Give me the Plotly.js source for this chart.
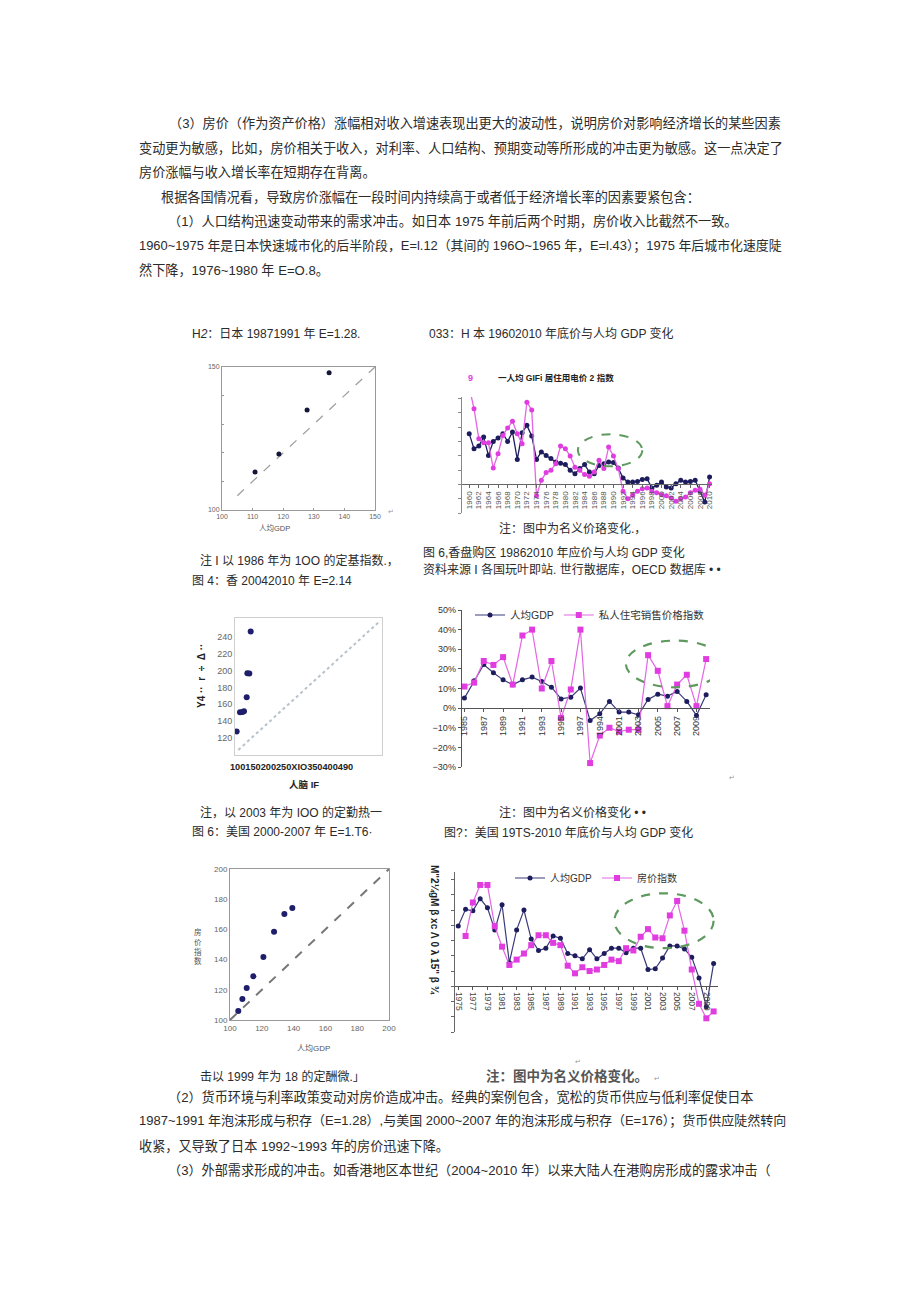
<!DOCTYPE html>
<html><head><meta charset="utf-8">
<script src="https://cdn.plot.ly/plotly-3.0.1.min.js"></script>
<style>html,body{margin:0;padding:0;background:#fff;}#page{width:920px;height:1301px;}</style>
</head><body><div id="page"></div>
<script>
// ---------- DATA ----------
// Chart 1: Japan 1987-1991 scatter (index, 1986=100)
const jpScatterGdp   = [110.8, 118.6, 127.8, 135.0];
const jpScatterPrice = [113.3, 119.6, 135.0, 148.0];
const jpDiagX = [105, 150];
const jpDiagY = [105, 150];
const jpScatterTicks = [100, 110, 120, 130, 140, 150];

// Chart 2: Japan 1960-2010 growth (%)
const jpYears = [1960,1961,1962,1963,1964,1965,1966,1967,1968,1969,1970,1971,1972,1973,1974,1975,1976,1977,1978,1979,1980,1981,1982,1983,1984,1985,1986,1987,1988,1989,1990,1991,1992,1993,1994,1995,1996,1997,1998,1999,2000,2001,2002,2003,2004,2005,2006,2007,2008,2009,2010];
const jpGdp   = [17.7,12.4,13.4,16.5,10.1,15,16.2,17.7,15,18.3, 8.7,18,20.6,16.9,8.7,11.3,10.1,9,7.8,7.4, 6.9,4.9,3.7,5.5,6.9,4.3,3.7,6.6,7.2,7.8, 7.6,5.7,2.2,0.8,0.8,1,1.7,2,-1.3,-0.3, 0.8,-0.9,-1.3,0.2,1.4,0.8,1,1.4,-2.4,-6.2,2.6];
const jpPrice = [34,26.4,15.9,14.5,14.5,5.7,10.7,17.1,19.7,22, 17.7,14.2,28.7,26,-4,1.4,4.1,4.9,7.2,13.4, 12.4,9.9,6,4.9,3.4,2.8,4.3,8.4,5.5,13, 9.9,5.5,-2.4,-5,-3.8,-2.4,-1.5,-1.3,-2.4,-2.9, -3.6,-4,-4.8,-5.9,-5,-4.4,-2.9,-2.1,-1.7,-3.8,0.2];
const jpTickYears = [1960,1962,1964,1966,1968,1970,1972,1974,1976,1978,1980,1982,1984,1986,1988,1990,1992,1994,1996,1998,2000,2002,2004,2006,2008,2010];

// Chart 3: Hong Kong scatter (2003=100)
const hkScatterGdp   = [104.5, 113.6, 120.0, 124.5, 131.8, 133.6, 139.0, 142.7];
const hkScatterPrice = [127.9, 150.5, 150.9, 151.7, 168.3, 196.8, 196.4, 245.9];
const hkDiagX = [109, 495];
const hkDiagY = [106, 258.6];
const hkScatterYTicks = [120, 140, 160, 180, 200, 220, 240];

// Chart 4: Hong Kong 1985-2010 growth (%)
const hkYears = [1985,1986,1987,1988,1989,1990,1991,1992,1993,1994,1995,1996,1997,1998,1999,2000,2001,2002,2003,2004,2005,2006,2007,2008,2009,2010];
const hkGdp   = [5.1,14,22.2,18,14.4,11.9,14.4,15.8,13.6,10.7, 4.7,5.6,10.2,-6.3,-2.9,3.4,-2,-2,-3.4,4.4, 7.1,6.1,8.5,3.4,-3.7,6.8];
const hkPrice = [11,13,24,22,26,12,37,40,10,24, -5,9.5,40,-28,-14,-10,-12,-11,-11,27, 19,1,12,17,1,25];
const hkTickYears = [1985,1987,1989,1991,1993,1995,1997,1999,2001,2003,2005,2007,2009];
const hkTickText  = ['1985','1987','1989','1991','1993','1995','1997','1994','2001','2003','2005','2007','2009'];
const hkSeriesNames = ['人均GDP', '私人住宅销售价格指数'];

// Chart 5: US 2000-2007 scatter (1999=100)
const usScatterGdp   = [105.2, 107.8, 110.5, 114.7, 121.0, 127.7, 134.2, 139.2];
const usScatterPrice = [106.0, 113.9, 121.2, 128.9, 141.7, 158.5, 170.2, 174.2];
const usDiagX = [100, 200];
const usDiagY = [100, 200];
const usScatterTicks = [100, 120, 140, 160, 180, 200];

// Chart 6: US 1975-2010 growth (%)
const usYears = [1975,1976,1977,1978,1979,1980,1981,1982,1983,1984,1985,1986,1987,1988,1989,1990,1991,1992,1993,1994,1995,1996,1997,1998,1999,2000,2001,2002,2003,2004,2005,2006,2007,2008,2009,2010];
const usGdp   = [7.9,10.1,9.9,11.5,10.3,7.4,10.7,3.1,7.4,10, 6.2,4.7,5,6.6,6.3,4.3,4,3.6,4.8,3.6, 4.3,5,5,4.4,5,5,2.2,2.3,3.7,5.3, 5.3,4.9,3.8,1.1,-2.7,3];
const usPrice = [null,6.6,11,13.3,13.3,7.9,5.2,2.8,3.5,4.3, 5.4,6.7,6.7,5.7,5.4,2.7,1.7,2.5,2,2.2, 2.8,3.5,3.3,5,4.7,6.5,7.5,6.4,6.3,9.3, 11.2,7.3,2.2,-2.3,-4.2,-3.3];
const usTickYears = [1975,1977,1979,1981,1983,1985,1987,1989,1991,1993,1995,1997,1999,2001,2003,2005,2007,2009];
const usSeriesNames = ['人均GDP', '房价指数'];

// ---------- LAYOUT HELPERS ----------
const W = 920, H = 1301;
const FONT = 'Liberation Sans, "Noto Sans CJK SC", sans-serif';
const px = x => x / W;
const py = y => 1 - y / H;
const xd = (a, b) => [px(a), px(b)];
const yd = (top, bottom) => [py(bottom), py(top)];
const NAVY = '#1d1d5e', MAG = '#e03ce0', MAGL = '#e466e4', GREEN = '#5e9a5e';

function note(text, x, y, size, o) {
  o = o || {};
  return {
    xref: 'paper', yref: 'paper', x: px(x), y: py(y),
    xanchor: o.anchor || 'left', yanchor: 'middle', showarrow: false,
    text: text, textangle: o.angle || 0,
    font: { size: size, color: o.color || '#2b2b2b', family: o.family || FONT }
  };
}

// ---------- TRACES ----------
const traces = [
  // chart 1
  { x: jpDiagX, y: jpDiagY, xaxis: 'x', yaxis: 'y', mode: 'lines', line: { color: '#a0a0a0', width: 1.3, dash: 'dash' }, showlegend: false, hoverinfo: 'skip' },
  { x: jpScatterGdp, y: jpScatterPrice, xaxis: 'x', yaxis: 'y', mode: 'markers', marker: { color: '#15153a', size: 5 }, showlegend: false },
  // chart 2
  { x: jpYears, y: jpGdp, xaxis: 'x2', yaxis: 'y2', mode: 'lines+markers', line: { color: NAVY, width: 1.3 }, marker: { color: NAVY, size: 5 }, showlegend: false },
  { x: jpYears, y: jpPrice, xaxis: 'x2', yaxis: 'y2', mode: 'lines+markers', line: { color: MAGL, width: 1.3 }, marker: { color: MAG, size: 5 }, showlegend: false },
  // chart 3
  { x: hkDiagX, y: hkDiagY, xaxis: 'x3', yaxis: 'y3', mode: 'lines', line: { color: '#b7c2cc', width: 2, dash: 'dot' }, showlegend: false, hoverinfo: 'skip' },
  { x: hkScatterGdp, y: hkScatterPrice, xaxis: 'x3', yaxis: 'y3', mode: 'markers', marker: { color: '#1e1e6a', size: 6 }, showlegend: false },
  // chart 4
  { x: hkYears, y: hkGdp, name: hkSeriesNames[0], xaxis: 'x4', yaxis: 'y4', mode: 'lines+markers', line: { color: '#3a3a7a', width: 1.2 }, marker: { color: NAVY, size: 5 }, legend: 'legend' },
  { x: hkYears, y: hkPrice, name: hkSeriesNames[1], xaxis: 'x4', yaxis: 'y4', mode: 'lines+markers', line: { color: MAGL, width: 1.2 }, marker: { color: MAG, size: 6, symbol: 'square' }, legend: 'legend' },
  // chart 5
  { x: usDiagX, y: usDiagY, xaxis: 'x5', yaxis: 'y5', mode: 'lines', line: { color: '#777', width: 2, dash: 'dash' }, showlegend: false, hoverinfo: 'skip' },
  { x: usScatterGdp, y: usScatterPrice, xaxis: 'x5', yaxis: 'y5', mode: 'markers', marker: { color: '#1e1e6a', size: 6 }, showlegend: false },
  // chart 6
  { x: usYears, y: usGdp, name: usSeriesNames[0], xaxis: 'x6', yaxis: 'y6', mode: 'lines+markers', line: { color: '#3a3a7a', width: 1.2 }, marker: { color: NAVY, size: 5 }, legend: 'legend2' },
  { x: usYears, y: usPrice, name: usSeriesNames[1], xaxis: 'x6', yaxis: 'y6', mode: 'lines+markers', connectgaps: false, line: { color: MAGL, width: 1.2 }, marker: { color: MAG, size: 6, symbol: 'square' }, legend: 'legend2' }
];

// ---------- AXES ----------
const noGrid = { showgrid: false, zeroline: false, fixedrange: true };
const layout = {
  width: W, height: H, margin: { l: 0, r: 0, t: 0, b: 0 },
  paper_bgcolor: '#fff', plot_bgcolor: '#fff',
  font: { family: FONT, color: '#333' },
  // chart 1
  xaxis: Object.assign({}, noGrid, { domain: xd(222, 375), range: [100, 150], anchor: 'y', tickvals: jpScatterTicks, tickfont: { size: 7, color: '#666' }, ticks: 'inside', ticklen: 2, tickcolor: '#999', showline: true, mirror: true, linecolor: '#999', linewidth: 1 }),
  yaxis: Object.assign({}, noGrid, { domain: yd(367, 510), range: [100, 150], anchor: 'x', tickvals: jpScatterTicks, ticktext: ['100', '', '', '', '', '150'], tickfont: { size: 7, color: '#666' }, ticks: 'inside', ticklen: 2, tickcolor: '#999', showline: true, mirror: true, linecolor: '#999', linewidth: 1 }),
  // chart 2
  xaxis2: Object.assign({}, noGrid, { domain: xd(462, 712), range: [1958.5, 2010.5], anchor: 'free', position: py(484), tickvals: jpTickYears, tickangle: -90, tickfont: { size: 8, color: '#555' }, ticks: 'outside', ticklen: 3, tickcolor: '#666', showline: true, linecolor: '#666', linewidth: 1.2 }),
  yaxis2: Object.assign({}, noGrid, { domain: yd(397, 513), range: [-10, 30.5], anchor: 'x2', dtick: 5, tick0: 0, showticklabels: false, ticks: 'outside', ticklen: 3, tickcolor: '#888', showline: true, linecolor: '#888', linewidth: 1 }),
  // chart 3
  xaxis3: Object.assign({}, noGrid, { domain: xd(235, 382), range: [100, 500], anchor: 'y3', showticklabels: false, ticks: '', showline: true, mirror: true, linecolor: '#cfcfcf', linewidth: 1 }),
  yaxis3: Object.assign({}, noGrid, { domain: yd(618, 755), range: [100, 262], anchor: 'x3', tickvals: hkScatterYTicks, tickfont: { size: 9, color: '#666' }, ticks: '', showline: true, mirror: true, linecolor: '#cfcfcf', linewidth: 1 }),
  // chart 4
  xaxis4: Object.assign({}, noGrid, { domain: xd(462, 710), range: [1984.75, 2010.4], anchor: 'free', position: py(708), tickvals: hkTickYears, ticktext: hkTickText, tickangle: -90, tickfont: { size: 9, color: '#333' }, ticks: 'outside', ticklen: 3, tickcolor: '#555', showline: true, linecolor: '#555', linewidth: 1.3 }),
  yaxis4: Object.assign({}, noGrid, { domain: yd(610, 767), range: [-30, 50], anchor: 'x4', dtick: 10, ticksuffix: '%', tickfont: { size: 9, color: '#333' }, ticks: 'outside', ticklen: 3, tickcolor: '#555', showline: true, linecolor: '#555', linewidth: 1.3 }),
  // chart 5
  xaxis5: Object.assign({}, noGrid, { domain: xd(230, 389), range: [100, 200], anchor: 'y5', tickvals: usScatterTicks, tickfont: { size: 8, color: '#666' }, ticks: '', showline: true, mirror: true, linecolor: '#999', linewidth: 1 }),
  yaxis5: Object.assign({}, noGrid, { domain: yd(869, 1020), range: [100, 200], anchor: 'x5', tickvals: usScatterTicks, tickfont: { size: 8, color: '#666' }, ticks: '', showline: true, mirror: true, linecolor: '#999', linewidth: 1 }),
  // chart 6
  xaxis6: Object.assign({}, noGrid, { domain: xd(455, 718), range: [1974.55, 2010.6], anchor: 'free', position: py(986), tickvals: usTickYears, tickangle: 90, tickfont: { size: 8.5, color: '#444' }, ticks: 'outside', ticklen: 3, tickcolor: '#555', showline: true, linecolor: '#555', linewidth: 1.2 }),
  yaxis6: Object.assign({}, noGrid, { domain: yd(872, 1032), range: [-6, 15], anchor: 'x6', dtick: 2, tick0: 0, showticklabels: false, ticks: 'outside', ticklen: 3, tickcolor: '#666', showline: true, linecolor: '#666', linewidth: 1.2 }),
  legend: { x: px(470), y: py(615), xanchor: 'left', yanchor: 'middle', orientation: 'h', bgcolor: 'rgba(0,0,0,0)', font: { size: 10.5, color: '#333' }, itemwidth: 30, tracegroupgap: 0 },
  legend2: { x: px(510), y: py(878), xanchor: 'left', yanchor: 'middle', orientation: 'h', bgcolor: 'rgba(0,0,0,0)', font: { size: 10, color: '#333' }, itemwidth: 30, tracegroupgap: 0 },
  shapes: [
    { type: 'circle', xref: 'x2', yref: 'y2', x0: 1982.6, x1: 1996.0, y0: 6.3, y1: 17.5, line: { color: GREEN, width: 2, dash: 'dash' } },
    { type: 'circle', xref: 'x4', yref: 'y4', x0: 2001.7, x1: 2011.9, y0: 10.6, y1: 34.4, line: { color: GREEN, width: 2.2, dash: 'dash' } },
    { type: 'circle', xref: 'x6', yref: 'y6', x0: 1996.4, x1: 2010.0, y0: 5.0, y1: 12.2, line: { color: GREEN, width: 2.2, dash: 'dash' } }
  ],
  annotations: []
};

// ---------- TEXT ----------
const P = 13.15, C = 12;
const A = layout.annotations;
// top paragraphs
A.push(note('（3）房价（作为资产价格）涨幅相对收入增速表现出更大的波动性，说明房价对影响经济增长的某些因素', 783, 124, P, { anchor: 'right' }));
A.push(note('变动更为敏感，比如，房价相关于收入，对利率、人口结构、预期变动等所形成的冲击更为敏感。这一点决定了', 137, 148, P));
A.push(note('房价涨幅与收入增长率在短期存在背离。', 137, 172, P));
A.push(note('根据各国情况看，导致房价涨幅在一段时间内持续高于或者低于经济增长率的因素要紧包含：', 159, 197, P));
A.push(note('（1）人口结构迅速变动带来的需求冲击。如日本 1975 年前后两个时期，房价收入比截然不一致。', 166, 221, P));
A.push(note('1960~1975 年是日本快速城市化的后半阶段，E=l.12（其间的 196O~1965 年，E=l.43）；1975 年后城市化速度陡', 137, 246, 12.9));
A.push(note('然下降，1976~1980 年 E=O.8。', 137, 270, P));
// captions row 1
A.push(note('H<i>2</i>：日本 19871991 年 E=1.28.', 190, 334, C));
A.push(note('033：H 本 19602010 年底价与人均 GDP 变化', 427, 334, C));
A.push(note('<b>9</b>', 466, 378, 9, { color: MAG }));
A.push(note('<b>一人均 GIFi 居住用电价 2 指数</b>', 496, 378, 8.5, { color: '#222' }));
A.push(note('人均GDP', 274, 528, 7.5, { anchor: 'center', color: '#555' }));
A.push(note('↵', 386, 511, 7, { color: '#999' }));
// captions row 2
A.push(note('注：图中为名义价珞变化.，', 497, 528, C));
A.push(note('图 6,香盘购区 19862010 年应价与人均 GDP 变化', 421, 552, C));
A.push(note('注 I 以 1986 年为 1OO 的定基指数.，', 198, 560, C));
A.push(note('资料来源 I 各国玩叶即站. 世行散据库，OECD 数据库 • •', 421, 569, C));
A.push(note('图 4：香 20042010 年 E=2.14', 190, 581, C));
// chart 3 texts
A.push(note('<b>Y4 ··  r  ÷  Δ ··</b>', 201, 676, 10, { anchor: 'center', angle: -90, color: '#222' }));
A.push(note('<b>100150200250XIO350400490</b>', 228, 767, 9.2, { color: '#222' }));
A.push(note('<b>人脑 IF</b>', 304, 784, 9.5, { anchor: 'center', color: '#222' }));
A.push(note('↵', 727, 777, 7, { color: '#999' }));
// captions row 3
A.push(note('注，以 2003 年为 IOO 的定勤热一', 198, 812, C));
A.push(note('注：图中为名义价格变化 • •', 497, 812, C));
A.push(note('图 6：美国 2000-2007 年 E=1.T6·', 190, 832, C));
A.push(note('图?：美国 19TS-2010 年底价与人均 GDP 变化', 442, 832, C));
// chart 5 texts
A.push(note('房<br>价<br>指<br>数', 198, 946, 7.5, { anchor: 'center', color: '#555' }));
A.push(note('人均GDP', 313, 1048, 8, { anchor: 'center', color: '#555' }));
// chart 6 texts
A.push(note('<b>M"2¼gM β xc Λ 0 λ 15" β ¾</b>', 435, 930, 10, { anchor: 'center', angle: 90, color: '#222' }));
A.push(note('↵', 573, 1061, 7, { color: '#999' }));
A.push(note('<b>注：图中为名义价格变化。</b>', 484, 1076, 13.5, { color: '#555' }));
A.push(note('↵', 652, 1078, 7, { color: '#999' }));
A.push(note('击以 1999 年为 18 的定酬微.」', 198, 1076, C));
// bottom paragraphs
A.push(note('（2）货币环境与利率政策变动对房价造成冲击。经典的案例包含，宽松的货币供应与低利率促使日本', 166, 1097, P));
A.push(note('1987~1991 年泡沫形成与积存（E=1.28）,与美国 2000~2007 年的泡沫形成与积存（E=176）；货币供应陡然转向', 137, 1121, 13.0));
A.push(note('收紧，又导致了日本 1992~1993 年的房价迅速下降。', 137, 1146, P));
A.push(note('（3）外部需求形成的冲击。如香港地区本世纪（2004~2010 年）以来大陆人在港购房形成的露求冲击（', 166, 1170, P));

Plotly.newPlot('page', traces, layout, { staticPlot: true, displayModeBar: false });
</script>
</body></html>
